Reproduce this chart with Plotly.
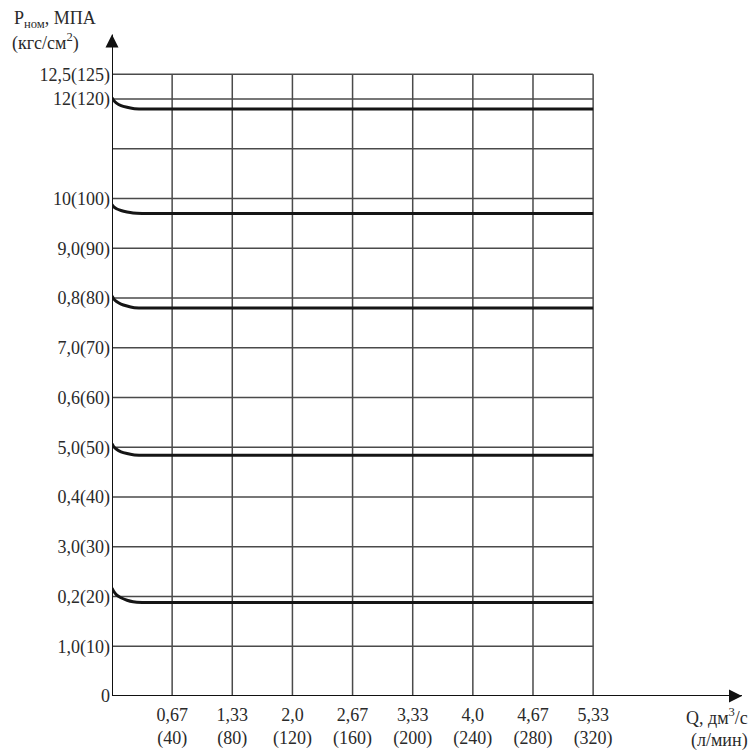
import plotly.graph_objects as go

# ---- data ----
q_ticks = [40, 80, 120, 160, 200, 240, 280, 320]  # л/мин
q_tick_text = ["0,67<br>(40)", "1,33<br>(80)", "2,0<br>(120)", "2,67<br>(160)",
               "3,33<br>(200)", "4,0<br>(240)", "4,67<br>(280)", "5,33<br>(320)"]
p_ticks = [0, 10, 20, 30, 40, 50, 60, 70, 80, 90, 100, 120, 125]  # кгс/см2
p_tick_text = ["0", "1,0(10)", "0,2(20)", "3,0(30)", "0,4(40)", "5,0(50)", "0,6(60)",
               "7,0(70)", "0,8(80)", "9,0(90)", "10(100)", "12(120)", "12,5(125)"]
p_grid = [10, 20, 30, 40, 50, 60, 70, 80, 90, 100, 110, 120, 125]

q_curve = [0, 1, 3, 6, 10, 14, 20, 320]
curve_120 = [120.3, 119.8, 119.2, 118.7, 118.35, 118.1, 118.0, 118.0]
curve_100 = [98.8, 98.4, 97.95, 97.6, 97.3, 97.1, 97.0, 97.0]
curve_80 = [80.4, 79.9, 79.3, 78.8, 78.4, 78.1, 78.0, 78.0]
curve_50 = [50.7, 50.2, 49.6, 49.1, 48.75, 48.5, 48.4, 48.4]
curve_20 = [21.7, 21.1, 20.35, 19.75, 19.25, 18.95, 18.8, 18.8]

Q_MAX = 320
P_MAX = 125
X_END = 423
Y_END = 134.5

FONT = "Liberation Serif"
TXT = "#2a2a2a"
GRID = "#4a4a4a"
FS = 18

fig = go.Figure()

for ys in [curve_120, curve_100, curve_80, curve_50, curve_20]:
    fig.add_trace(go.Scatter(x=q_curve, y=ys, mode="lines",
                             line=dict(color="#151515", width=3, shape="spline", smoothing=0.6),
                             showlegend=False, hoverinfo="skip"))

# arrowheads at the ends of the axes
fig.add_trace(go.Scatter(x=[0], y=[Y_END - 1.5], mode="markers", cliponaxis=False,
                         marker=dict(symbol="arrow-up", size=13, color="#111", line=dict(width=0)),
                         showlegend=False, hoverinfo="skip"))
fig.add_trace(go.Scatter(x=[X_END - 4], y=[0], mode="markers", cliponaxis=False,
                         marker=dict(symbol="arrow-right", size=13, color="#111", line=dict(width=0)),
                         showlegend=False, hoverinfo="skip"))

shapes = []
for q in q_ticks:
    shapes.append(dict(type="line", xref="x", yref="y", x0=q, x1=q, y0=0, y1=P_MAX,
                       line=dict(color=GRID, width=1.5), layer="below"))
for p in p_grid:
    shapes.append(dict(type="line", xref="x", yref="y", x0=0, x1=Q_MAX, y0=p, y1=p,
                       line=dict(color=GRID, width=1.5), layer="below"))
# axis lines
shapes.append(dict(type="line", xref="x", yref="y", x0=0, x1=X_END - 4, y0=0, y1=0,
                   line=dict(color="#111", width=2)))
shapes.append(dict(type="line", xref="x", yref="y", x0=0, x1=0, y0=0, y1=Y_END - 1.5,
                   line=dict(color="#111", width=2)))

annotations = [
    dict(text="P<sub>ном</sub>, МПА", x=-0.158, y=1.011, xref="paper", yref="paper",
         xanchor="left", yanchor="middle", showarrow=False, font=dict(family=FONT, size=FS, color=TXT)),
    dict(text="(кгс/см<sup>2</sup>)", x=-0.160, y=0.977, xref="paper", yref="paper",
         xanchor="left", yanchor="middle", showarrow=False, font=dict(family=FONT, size=FS, color=TXT)),
    dict(text="Q, дм<sup>3</sup>/с", x=1.003, y=-0.031, xref="paper", yref="paper",
         xanchor="right", yanchor="middle", showarrow=False, font=dict(family=FONT, size=FS, color=TXT)),
    dict(text="(л/мин)", x=1.003, y=-0.066, xref="paper", yref="paper",
         xanchor="right", yanchor="middle", showarrow=False, font=dict(family=FONT, size=FS, color=TXT)),
]

fig.update_layout(
    width=752, height=755,
    margin=dict(l=112, r=4, t=27, b=59),
    paper_bgcolor="white", plot_bgcolor="white",
    shapes=shapes, annotations=annotations,
    font=dict(family=FONT, size=FS, color=TXT),
    xaxis=dict(range=[0, X_END], tickvals=q_ticks, ticktext=q_tick_text,
               showgrid=False, zeroline=False, showline=False, ticks="",
               ticklabelstandoff=6, tickfont=dict(family=FONT, size=FS, color=TXT)),
    yaxis=dict(range=[0, Y_END], tickvals=p_ticks, ticktext=p_tick_text,
               showgrid=False, zeroline=False, showline=False, ticks="",
               ticklabelstandoff=1, tickfont=dict(family=FONT, size=FS, color=TXT)),
)

fig.write_html("out.html")
